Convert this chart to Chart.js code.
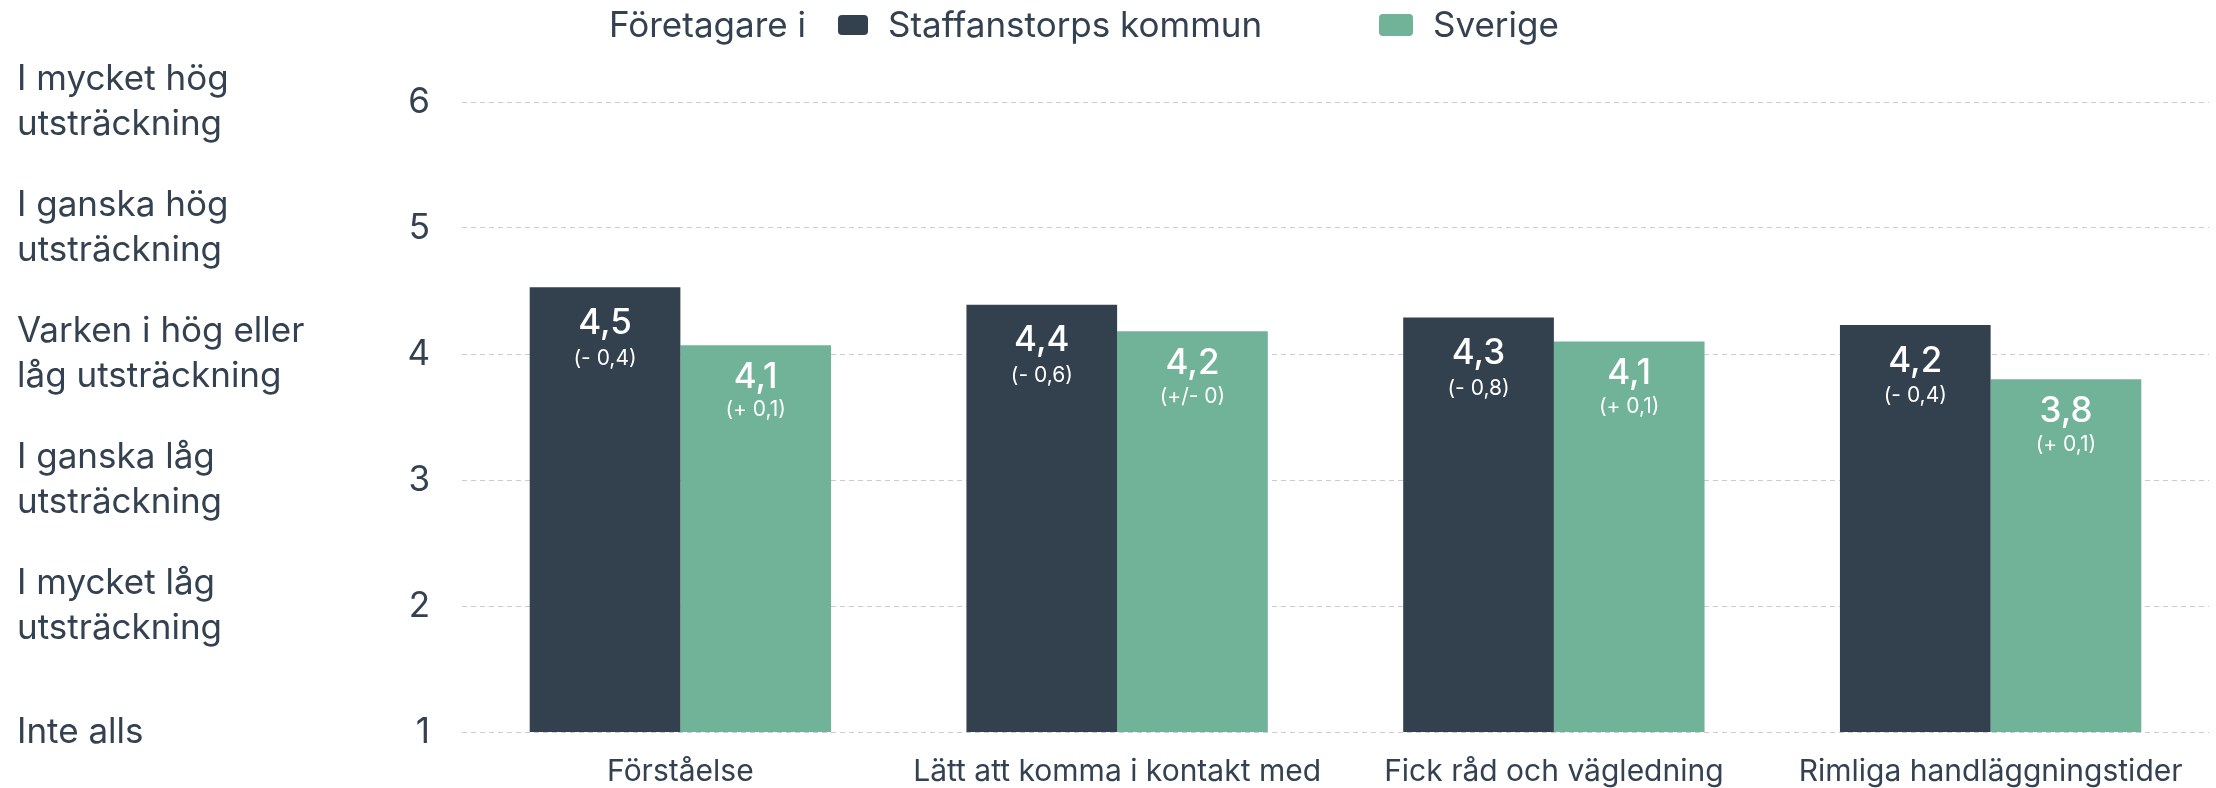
<!DOCTYPE html>
<html lang="sv">
<head>
<meta charset="utf-8">
<title>Företagare i Staffanstorps kommun och Sverige</title>
<script src="https://cdn.jsdelivr.net/npm/chart.js@4"></script>
<style>
  html, body { margin: 0; padding: 0; background: #fff; }
  #wrap { position: relative; width: 2216px; height: 788px; }
  #legend { position: absolute; top: 0; left: 0; width: 2216px; height: 60px;
    font-family: Inter, sans-serif; font-size: 35px; color: #334151; }
  #legend span { position: absolute; top: 3px; line-height: normal; white-space: nowrap; }
  #legend i { position: absolute; border-radius: 4px; }
</style>
</head>
<body>
<div id="wrap">
  <canvas id="myChart"></canvas>
  <div id="legend">
    <span style="left:609px">Företagare i</span>
    <i style="left:838px; top:15px; width:30px; height:20px; background:#33414f"></i>
    <span style="left:888px">Staffanstorps kommun</span>
    <i style="left:1379px; top:14px; width:34px; height:22px; background:#71b398"></i>
    <span style="left:1433px">Sverige</span>
  </div>
</div>
<script>
let categories = ['Förståelse', 'Lätt att komma i kontakt med', 'Fick råd och vägledning', 'Rimliga handläggningstider'];
let kommunValues = [4.53, 4.39, 4.29, 4.23];
let sverigeValues = [4.07, 4.18, 4.1, 3.8];
let kommunDiff = ['(- 0,4)', '(- 0,6)', '(- 0,8)', '(- 0,4)'];
let sverigeDiff = ['(+ 0,1)', '(+/- 0)', '(+ 0,1)', '(+ 0,1)'];
let scaleLabels = {
    1: ['Inte alls'],
    2: ['I mycket låg', 'utsträckning'],
    3: ['I ganska låg', 'utsträckning'],
    4: ['Varken i hög eller', 'låg utsträckning'],
    5: ['I ganska hög', 'utsträckning'],
    6: ['I mycket hög', 'utsträckning']
};

let textColor = '#334151';
Chart.defaults.font.family = 'Inter, sans-serif';
Chart.defaults.color = textColor;

// value + change labels inside the top of each bar
let barLabels = {
    id: 'barLabels',
    afterDatasetsDraw(chart) {
        let ctx = chart.ctx;
        chart.data.datasets.forEach((ds, i) => {
            let meta = chart.getDatasetMeta(i);
            meta.data.forEach((bar, j) => {
                let val = ds.data[j].toFixed(1).replace('.', ',');
                ctx.save();
                ctx.fillStyle = '#fff';
                ctx.textAlign = 'center';
                ctx.textBaseline = 'middle';
                ctx.font = '500 35px Inter, sans-serif';
                ctx.fillText(val, bar.x, bar.y + ds.offMain);
                ctx.font = '21px Inter, sans-serif';
                ctx.fillText(ds.diff[j], bar.x, bar.y + ds.offDiff);
                ctx.restore();
            });
        });
    }
};

let ctx = document.getElementById('myChart').getContext('2d');
let myChart = new Chart(ctx, {
    type: 'bar',
    data: {
        labels: categories,
        datasets: [{
            label: 'Staffanstorps kommun',
            data: kommunValues,
            diff: kommunDiff,
            offMain: 36,
            offDiff: 71,
            backgroundColor: '#33414f'
        }, {
            label: 'Sverige',
            data: sverigeValues,
            diff: sverigeDiff,
            offMain: 32,
            offDiff: 65,
            backgroundColor: '#71b398'
        }]
    },
    plugins: [barLabels],
    options: {
        responsive: true,
        maintainAspectRatio: false,
        animation: false,
        layout: {
            padding: { top: 102, left: 17, right: 7, bottom: 0 }
        },
        datasets: {
            bar: { categoryPercentage: 0.69, barPercentage: 1 }
        },
        plugins: {
            legend: { display: false },
            tooltip: { enabled: false }
        },
        scales: {
            x: {
                grid: { display: false, drawTicks: false },
                border: { display: false },
                ticks: { font: { size: 30 }, padding: 22, color: textColor },
                afterFit: (scale) => { scale.height = 56; }
            },
            y: {
                min: 1,
                max: 6,
                weight: 0,
                ticks: { stepSize: 1, font: { size: 35 }, padding: 32, color: textColor },
                grid: { color: '#cccccc', lineWidth: 1, drawTicks: false },
                border: { display: false, dash: [5, 4] },
                afterFit: (scale) => { scale.width = 115; }
            },
            y2: {
                position: 'left',
                min: 1,
                max: 6,
                weight: 1,
                ticks: {
                    stepSize: 1,
                    crossAlign: 'far',
                    padding: 0,
                    font: { size: 35, lineHeight: 1.28 },
                    color: textColor,
                    callback: (v) => scaleLabels[v] || ''
                },
                grid: { display: false, drawTicks: false },
                border: { display: false },
                afterFit: (scale) => { scale.width = 330; }
            }
        }
    }
});
</script>
</body>
</html>
